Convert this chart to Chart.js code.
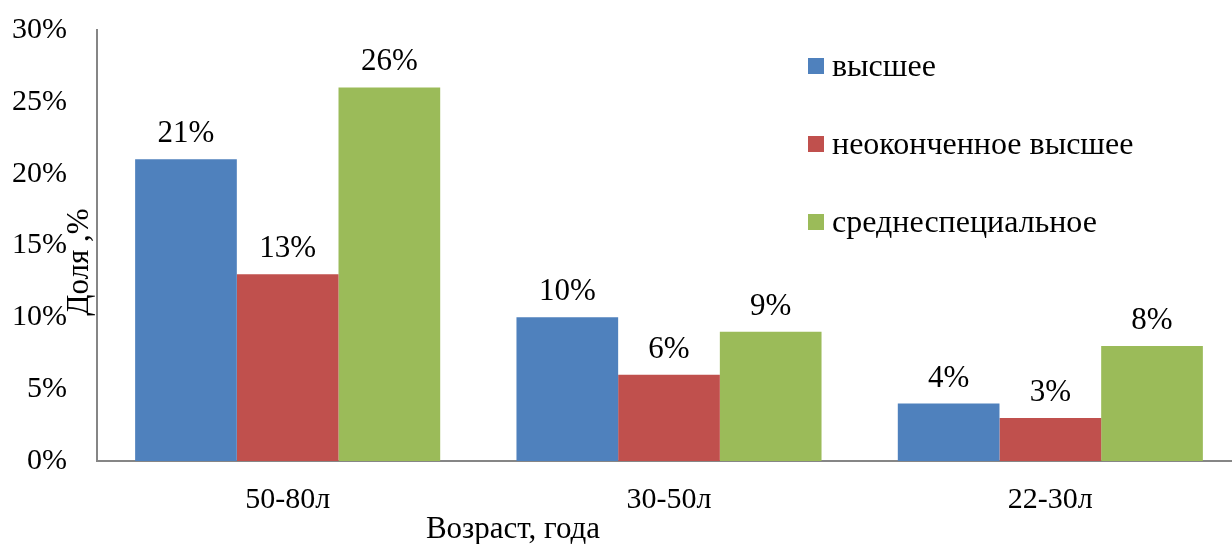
<!DOCTYPE html>
<html>
<head>
<meta charset="utf-8">
<script src="https://cdn.jsdelivr.net/npm/chart.js@4"></script>
<style>
  html, body { margin: 0; padding: 0; background: #fff; overflow: hidden; }
  #wrap { width: 1241px; height: 544px; }
</style>
</head>
<body>
<div id="wrap"><canvas id="chart"></canvas></div>
<script>
// values, in %
const ageGroups = ["50-80л", "30-50л", "22-30л"];
const seriesNames = ["высшее", "неоконченное высшее", "среднеспециальное"];
const higher = [21, 10, 4];
const unfinishedHigher = [13, 6, 3];
const secondarySpecial = [26, 9, 8];
const yTicks = [0, 5, 10, 15, 20, 25, 30];

const colors = ["#4F81BD", "#C0504D", "#9BBB59"];
const font = "'Liberation Serif', 'Times New Roman', serif";

// value labels over the bars
const barLabels = {
  id: "barLabels",
  afterDatasetsDraw(chart) {
    const ctx = chart.ctx;
    ctx.save();
    ctx.font = "31px " + font;
    ctx.fillStyle = "#000";
    ctx.textAlign = "center";
    ctx.textBaseline = "alphabetic";
    chart.data.datasets.forEach((ds, i) => {
      chart.getDatasetMeta(i).data.forEach((bar, j) => {
        ctx.fillText(ds.data[j] + "%", bar.x, bar.y - 17);
      });
    });
    ctx.restore();
  }
};

// legend inside the plot, and the two axis titles
const extras = {
  id: "extras",
  afterDraw(chart) {
    const ctx = chart.ctx;
    ctx.save();
    ctx.font = "32px " + font;
    ctx.textBaseline = "middle";
    chart.data.datasets.forEach((ds, i) => {
      const y = 66 + i * 78;
      ctx.fillStyle = ds.backgroundColor;
      ctx.fillRect(808, y - 8, 16, 16);
      ctx.fillStyle = "#000";
      ctx.textAlign = "left";
      ctx.fillText(ds.label, 832, y + 2);
    });

    ctx.font = "31px " + font;
    ctx.textAlign = "center";
    ctx.fillText("Возраст, года", 513, 530);

    ctx.translate(80, 262);
    ctx.rotate(-Math.PI / 2);
    ctx.fillText("Доля ,%", 0, 0);
    ctx.restore();
  }
};

new Chart("chart", {
  type: "bar",
  data: {
    labels: ageGroups,
    datasets: [
      { label: seriesNames[0], data: higher, backgroundColor: colors[0] },
      { label: seriesNames[1], data: unfinishedHigher, backgroundColor: colors[1] },
      { label: seriesNames[2], data: secondarySpecial, backgroundColor: colors[2] }
    ]
  },
  options: {
    responsive: true,
    maintainAspectRatio: false,
    animation: false,
    layout: { padding: { top: 30, left: 0, right: 0, bottom: 0 } },
    datasets: {
      bar: { barPercentage: 1, categoryPercentage: 0.8 }
    },
    plugins: {
      legend: { display: false },
      tooltip: { enabled: false }
    },
    scales: {
      x: {
        grid: { display: false },
        border: { display: true, color: "#868686", width: 2 },
        ticks: { color: "#000", font: { family: font, size: 30 }, padding: 13 },
        afterFit(scale) {
          scale.height = 83;
          scale.paddingLeft = 0;
          scale.paddingRight = 0;
        }
      },
      y: {
        min: 0,
        max: 30,
        grid: { display: false },
        border: { display: true, color: "#868686", width: 2 },
        afterBuildTicks(scale) { scale.ticks = yTicks.map(v => ({ value: v })); },
        ticks: {
          color: "#000",
          font: { family: font, size: 30 },
          padding: 22,
          callback: v => v + "%"
        },
        afterFit(scale) {
          scale.width = 97;
          scale.paddingTop = 0;
          scale.paddingBottom = 0;
        }
      }
    }
  },
  plugins: [barLabels, extras]
});
</script>
</body>
</html>
